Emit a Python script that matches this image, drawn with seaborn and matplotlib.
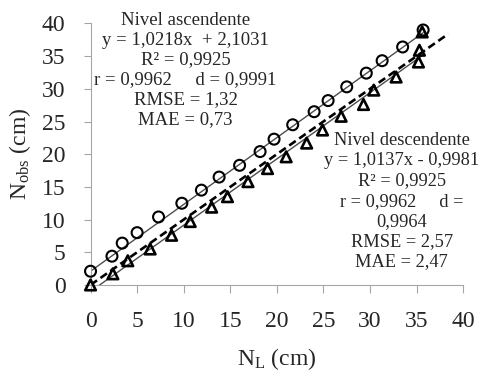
import matplotlib
matplotlib.use("Agg")
import matplotlib.pyplot as plt
import numpy as np
import pandas as pd
import seaborn as sns

# ascending level (circles)
asc_x = [0, 2.3, 3.4, 5.0, 7.3, 9.8, 11.9, 13.8, 16.0, 18.2, 19.7, 21.7, 24.0,
         25.5, 27.5, 29.6, 31.3, 33.5, 35.7]
asc_y = [2.1, 4.4, 6.4, 8.0, 10.4, 12.5, 14.5, 16.5, 18.3, 20.4, 22.3, 24.5,
         26.5, 28.2, 30.3, 32.4, 34.3, 36.4, 39.0]

# descending level (triangles)
desc_x = [0, 2.4, 4.0, 6.4, 8.7, 10.7, 13.0, 14.7, 16.9, 19.0, 21.0, 23.2,
          24.9, 26.9, 29.3, 30.4, 32.8, 35.2, 35.3, 35.6]
desc_y = [0, 1.7, 3.7, 5.5, 7.6, 9.7, 11.9, 13.5, 15.8, 17.8, 19.6, 21.7,
          23.7, 25.8, 27.6, 29.8, 31.8, 34.1, 35.9, 38.7]

# regression coefficients (slope, intercept)
asc_fit = [1.0218, 2.1031]
desc_fit = [1.0137, -0.9981]
identity_range = [0, 38.4]

asc_text = ("Nivel ascendente\ny = 1,0218x  + 2,1031\nR² = 0,9925\n"
            "r = 0,9962     d = 0,9991\nRMSE = 1,32\nMAE = 0,73")
desc_text = ("Nivel descendente\ny = 1,0137x - 0,9981\nR² = 0,9925\n"
             "r = 0,9962     d =\n0,9964\nRMSE = 2,57\nMAE = 2,47")

sns.set_style("ticks")
plt.rcParams["font.family"] = ["Liberation Serif", "DejaVu Serif"]
plt.rcParams["mathtext.fontset"] = "custom"
plt.rcParams["mathtext.rm"] = "Liberation Serif"
plt.rcParams["mathtext.it"] = "Liberation Serif:italic"

fig = plt.figure(figsize=(4.79, 3.72), dpi=100)
ax = fig.add_axes([0.189, 0.234, 0.778, 0.703])

asc = pd.DataFrame({"x": asc_x, "y": asc_y})
desc = pd.DataFrame({"x": desc_x, "y": desc_y})

# fit lines
xa = np.array([min(asc_x), max(asc_x)])
sns.lineplot(x=xa, y=asc_fit[0] * xa + asc_fit[1], ax=ax, color="#4d4d4d", lw=1)
xd = np.array([min(desc_x), max(desc_x)])
sns.lineplot(x=xd, y=desc_fit[0] * xd + desc_fit[1], ax=ax, color="#4d4d4d", lw=1)
xi = np.array(identity_range)
sns.lineplot(x=xi, y=xi, ax=ax, color="black", lw=1.9, dashes=False,
             linestyle=(0, (3, 1.6)))

sns.scatterplot(data=asc, x="x", y="y", ax=ax, marker="o", s=62,
                facecolor="none", edgecolor="black", linewidth=1.5,
                clip_on=False, zorder=3)
sns.scatterplot(data=desc, x="x", y="y", ax=ax, marker="^", s=58,
                facecolor="none", edgecolor="black", linewidth=1.9,
                clip_on=False, zorder=3)

ax.set_xlim(0, 40)
ax.set_ylim(0, 40)
ax.set_xticks(range(0, 41, 5))
ax.set_yticks(range(0, 41, 5))
ax.tick_params(axis="x", labelsize=17, length=6, pad=13, color="#a6a6a6")
ax.tick_params(axis="y", labelsize=17, length=5, pad=13, color="#a6a6a6")
for side in ["left", "bottom"]:
    ax.spines[side].set_color("#a6a6a6")
sns.despine(ax=ax)

ax.set_xlabel("N$_\\mathrm{L}$ (cm)", fontsize=17)
ax.set_ylabel("N$_\\mathrm{obs}$ (cm)", fontsize=17)
ax.xaxis.set_label_coords(0.5, -0.235)
ax.yaxis.set_label_coords(-0.155, 0.5)

ax.text(10.2, 41.8, asc_text, ha="center", va="top", fontsize=13.5,
        linespacing=1.22)
ax.text(33.4, 23.4, desc_text, ha="center", va="top", fontsize=13.2,
        linespacing=1.25)

fig.savefig("out.png", dpi=100)
